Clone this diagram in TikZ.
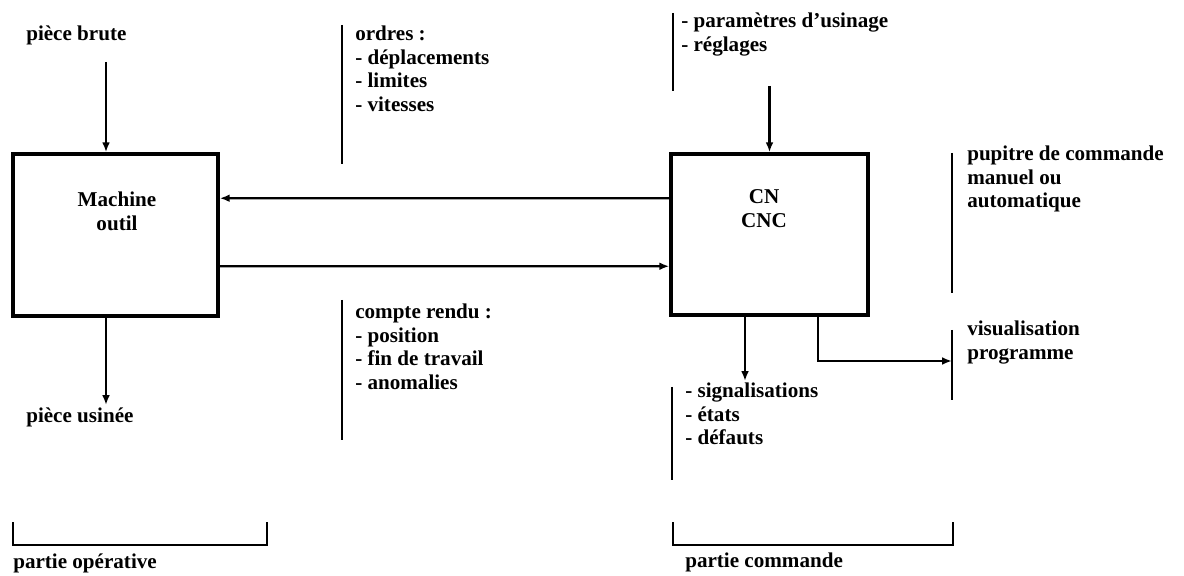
\documentclass[tikz,border=0pt]{standalone}
\usepackage{fontspec}
\setmainfont{Liberation Serif}
\usetikzlibrary{arrows.meta,positioning,calc}

\begin{document}
\begin{tikzpicture}[x=0.025cm, y=-0.025cm,
    bloc/.style={draw, line width=2.5pt, inner sep=0pt},
    fleche/.style={-{Latex[length=7pt,width=5.5pt]}, line width=1.5pt},
    barre/.style={line width=1.4pt},
    txt/.style={font=\bfseries\fontsize{15}{16.7}\selectfont, inner sep=0pt, align=left}]
    \useasboundingbox (0,0) rectangle (1184,576);

    % Blocs
    \node[bloc, minimum width=5.125cm, minimum height=4.05cm] (machine) at (115.5,235) {};
    \node[txt, align=center] (machinetxt) at (117,211.5) {Machine\\outil};
    \node[bloc, minimum width=4.925cm, minimum height=4.025cm] (cnc) at (769.5,234.5) {};
    \node[txt, align=center] (cnctxt) at (764,208.5) {CN\\CNC};

    % Entree et sortie de la piece
    \node[txt, anchor=west] (brute) at (26,35) {pièce brute};
    \coordinate (brutein) at (106,62);
    \draw[fleche] (brutein) -- (brutein |- machine.north);
    \node[txt, anchor=west] (usinee) at (26,417) {pièce usinée};
    \coordinate (usineout) at (106,405);
    \draw[fleche] (usineout |- machine.south) -- (usineout);

    % Ordres et compte rendu
    \draw[fleche] ([yshift=-1.15cm]cnc.north west) -- ([yshift=-1.15cm]machine.north east);
    \draw[fleche] ([yshift=-2.85cm]machine.north east) -- ([yshift=-2.85cm]cnc.north west);
    \draw[barre] (342,25) -- (342,164);
    \node[txt, anchor=north west] (ordres) at (355,26) {ordres :\\- déplacements\\- limites\\- vitesses};
    \draw[barre] (342,300) -- (342,440);
    \node[txt, anchor=north west] (compte) at (355,304) {compte rendu :\\- position\\- fin de travail\\- anomalies};

    % Reglages
    \draw[barre] (673,13) -- (673,91);
    \node[txt, anchor=north west] (reglages) at (681,13) {- paramètres d'usinage\\- réglages};
    \coordinate (reglin) at (769.5,86);
    \draw[fleche] (reglin) -- (cnc.north);

    % Pupitre
    \draw[barre] (952,153) -- (952,293);
    \node[txt, anchor=north west] (pupitre) at (967,146) {pupitre de commande\\manuel ou\\automatique};

    % Visualisation
    \draw[barre] (952,330) -- (952,400);
    \coordinate (visin) at (952,361);
    \coordinate (visout) at (818,315);
    \node[txt, anchor=north west] (visu) at (967,321) {visualisation\\programme};
    \draw[fleche] (visout |- cnc.south) |- (visin);

    % Signalisations
    \draw[barre] (672,387) -- (672,480);
    \node[txt, anchor=north west] (signal) at (685,383) {- signalisations\\- états\\- défauts};
    \coordinate (signout) at (745,381);
    \draw[fleche] (signout |- cnc.south) -- (signout);

    % Parties
    \draw[barre] (13,522) |- (267,545) -- (267,522);
    \node[txt, anchor=west] (operative) at (13,563) {partie opérative};
    \draw[barre] (673,522) |- (953,545) -- (953,522);
    \node[txt, anchor=west] (commande) at (685,562) {partie commande};
\end{tikzpicture}
\end{document}
